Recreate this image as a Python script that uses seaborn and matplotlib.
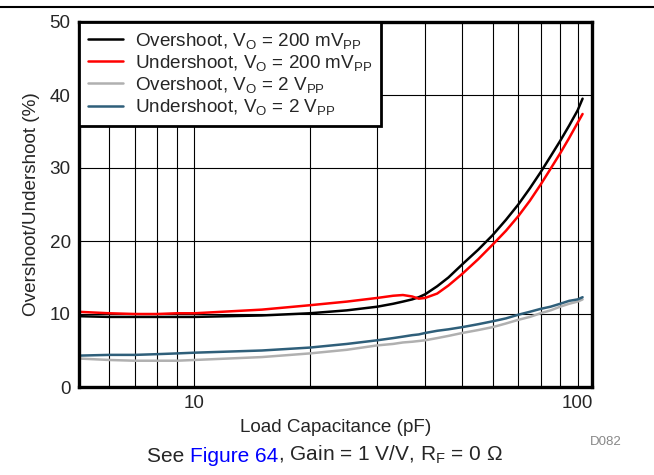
import numpy as np
import pandas as pd
import seaborn as sns
import matplotlib.pyplot as plt
from matplotlib.lines import Line2D

# Load capacitance (pF)
cap = [5, 6, 7, 8, 9, 10, 15, 20, 25, 30, 33, 35, 37, 38.5, 40, 43, 46, 50,
       55, 60, 65, 70, 75, 80, 85, 90, 95, 100, 103]

# Overshoot / undershoot (%)
over_200mv = [9.7, 9.6, 9.6, 9.6, 9.6, 9.6, 9.8, 10.1, 10.5, 11.0, 11.4, 11.7,
              12.0, 12.3, 12.7, 13.8, 15.0, 16.8, 18.8, 20.8, 22.9, 25.0,
              27.2, 29.4, 31.6, 33.7, 35.8, 37.9, 39.5]
under_200mv = [10.3, 10.1, 10.0, 10.0, 10.1, 10.1, 10.6, 11.2, 11.7, 12.2,
               12.5, 12.6, 12.4, 12.1, 12.2, 12.8, 13.9, 15.5, 17.5, 19.5,
               21.4, 23.4, 25.5, 27.7, 29.9, 32.0, 34.1, 36.2, 37.4]
over_2v = [3.9, 3.7, 3.6, 3.6, 3.6, 3.7, 4.1, 4.6, 5.1, 5.7, 5.9, 6.1, 6.2,
           6.3, 6.4, 6.7, 7.0, 7.4, 7.8, 8.2, 8.7, 9.2, 9.6, 10.1, 10.5, 11.0,
           11.4, 11.7, 12.0]
under_2v = [4.3, 4.4, 4.4, 4.5, 4.6, 4.7, 5.0, 5.4, 5.9, 6.4, 6.7, 6.9, 7.1,
            7.2, 7.4, 7.7, 7.9, 8.2, 8.6, 9.0, 9.4, 9.9, 10.3, 10.7, 11.0,
            11.4, 11.8, 12.0, 12.3]

labels = [r'Overshoot, V$_\mathrm{O}$ = 200 mV$_\mathrm{PP}$',
          r'Undershoot, V$_\mathrm{O}$ = 200 mV$_\mathrm{PP}$',
          r'Overshoot, V$_\mathrm{O}$ = 2 V$_\mathrm{PP}$',
          r'Undershoot, V$_\mathrm{O}$ = 2 V$_\mathrm{PP}$']
colors = ['#000000', '#ff0000', '#b0b0b0', '#2f5f7a']

frames = []
for lab, vals in zip(labels, [over_200mv, under_200mv, over_2v, under_2v]):
    frames.append(pd.DataFrame({'cap': cap, 'value': vals, 'series': lab}))
df = pd.concat(frames, ignore_index=True)

sns.set_style('white')
plt.rcParams['font.family'] = ['Liberation Sans', 'DejaVu Sans']
plt.rcParams['mathtext.fontset'] = 'custom'
plt.rcParams['mathtext.rm'] = 'Liberation Sans'
plt.rcParams['mathtext.it'] = 'Liberation Sans:italic'
plt.rcParams['mathtext.bf'] = 'Liberation Sans:bold'

fs = 13.6

fig = plt.figure(figsize=(6.54, 4.75), dpi=100)
ax = fig.add_axes([79 / 654, 1 - 387 / 475, (592 - 79) / 654, (387 - 22) / 475])

sns.lineplot(data=df, x='cap', y='value', hue='series', palette=colors,
             linewidth=1.8, ax=ax, sort=False)

ax.set_xscale('log')
ax.set_xlim(5, 109)
ax.set_ylim(0, 50)
ax.set_yticks([0, 10, 20, 30, 40, 50])
ax.set_xticks([10, 100])
ax.set_xticklabels(['10', '100'])
ax.set_xticks([6, 7, 8, 9, 20, 30, 40, 50, 60, 70, 80, 90], minor=True)
ax.xaxis.set_minor_formatter(plt.NullFormatter())
ax.grid(True, which='both', axis='x', color='black', linewidth=0.8)
ax.grid(True, which='major', axis='y', color='black', linewidth=0.8)
ax.tick_params(axis='both', which='both', length=0, labelsize=fs, pad=6)

for s in ax.spines.values():
    s.set_visible(True)
    s.set_color('black')
    s.set_linewidth(2.4)

ax.set_xlabel('Load Capacitance (pF)', fontsize=fs, labelpad=5)
ax.set_ylabel('Overshoot/Undershoot (%)', fontsize=fs, labelpad=7)

sns.move_legend(ax, 'upper left', title=None, fontsize=fs, frameon=True,
                fancybox=False, borderaxespad=0, handlelength=1.9,
                labelspacing=0.12, borderpad=0.45, handletextpad=0.6)
leg = ax.get_legend()
leg.get_frame().set_edgecolor('black')
leg.get_frame().set_linewidth(2.0)
leg.get_frame().set_alpha(1)
for h in leg.get_lines():
    h.set_linewidth(1.8)

# page rule at the top
fig.add_artist(Line2D([0, 1], [1 - 7 / 475, 1 - 7 / 475], color='black', linewidth=1.5))

fig.text(606 / 654, 1 - 442 / 475, 'D082', fontsize=9.5, color='#888888',
         ha='center', va='center')

# caption
t1 = fig.text(147 / 654, 1 - 457 / 475, 'See ', fontsize=15, va='center', ha='left')
t2 = ax.annotate('Figure 64', xy=(1, 0), xycoords=t1, va='bottom', ha='left',
                 fontsize=15, color='#0000ff', annotation_clip=False)
ax.annotate(r', Gain = 1 V/V, R$_\mathrm{F}$ = 0 Ω', xy=(1, 0), xycoords=t2,
            va='bottom', ha='left', fontsize=15, annotation_clip=False)

fig.savefig('out.png', dpi=100)
